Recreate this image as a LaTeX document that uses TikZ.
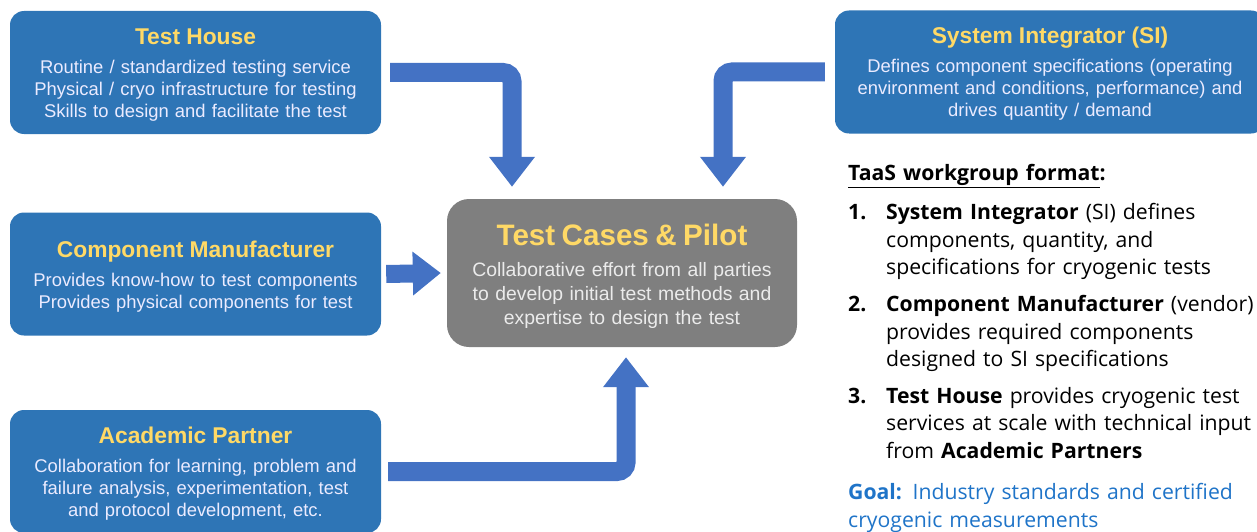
\documentclass[tikz,border=0pt]{standalone}
\usepackage{fontspec}
\setmainfont{Liberation Sans}
\newfontfamily\listfont{Open Sans}
\usetikzlibrary{positioning}
\usetikzlibrary{arrows.meta}
\definecolor{boxblue}{HTML}{2E75B6}
\definecolor{arrowblue}{HTML}{4472C4}
\definecolor{pilotgray}{HTML}{7F7F7F}
\definecolor{titleyellow}{HTML}{FFD966}
\definecolor{goalblue}{HTML}{1F74C8}
% title line of a box, #1 = extra room above it
\newcommand{\boxtitle}[3][5pt]{{\fontsize{#2}{24}\selectfont\bfseries\color{titleyellow}\rule{0pt}{\dimexpr\fontcharht\font`T+#1\relax}#3\par}\vspace{7pt}}
\newcommand{\listitem}[2]{\makebox[38pt][l]{\textbf{#1}}\parbox[t]{400pt}{#2}\par}
\tikzset{
    party/.style={
        fill=boxblue, rounded corners=14pt,
        minimum width=371pt, minimum height=123pt,
        text width=365pt, align=center, inner sep=0pt,
        text=white!92!blue, font=\fontsize{18.4}{22}\selectfont
    },
    pilotbox/.style={
        fill=pilotgray, rounded corners=22pt,
        minimum width=350pt, minimum height=148pt,
        text width=345pt, align=center, inner sep=0pt,
        text=white!92!black, font=\fontsize{19.4}{24}\selectfont
    },
    bigarrow/.style={
        draw=arrowblue, line width=19pt, rounded corners=9pt,
        -{Triangle[length=30pt,width=44pt]}
    },
}

\begin{document}
\begin{tikzpicture}[x=1pt,y=-1pt]
    \useasboundingbox (0,0) rectangle (1257,532);

    % the parties
    \node[party] (house) at (195.5,72.5) {\boxtitle[6pt]{22.8}{Test House}
        Routine / standardized testing service\\
        Physical / cryo infrastructure for testing\\
        Skills to design and facilitate the test};
    \node[party, minimum width=430pt, text width=425pt] (si) at (1050,72) {\boxtitle[5pt]{22.8}{System Integrator (SI)}
        Defines component specifications (operating\\
        environment and conditions, performance) and\\
        drives quantity / demand};
    \node[party] (comp) at (195.5,274) {\boxtitle[7pt]{22.8}{Component Manufacturer}
        Provides know-how to test components\\
        Provides physical components for test};
    \node[party] (acad) at (195.5,471.5) {\boxtitle[5pt]{22.8}{Academic Partner}
        Collaboration for learning, problem and\\
        failure analysis, experimentation, test\\
        and protocol development, etc.};

    % the pilot
    \node[pilotbox] (pilot) at (622,273) {\boxtitle[8pt]{29.6}{Test Cases \& Pilot}
        Collaborative effort from all parties\\
        to develop initial test methods and\\
        expertise to design the test};

    % arrows
    \draw[bigarrow] ([xshift=9pt]house.east) -| ([xshift=-110pt,yshift=12pt]pilot.north);
    \draw[bigarrow] ([xshift=-10pt]si.west) -| ([xshift=101pt,yshift=12pt]pilot.north);
    \draw[bigarrow, line width=18pt, -{Triangle[length=28pt,width=42pt]}] ([xshift=5pt]comp.east) -- ([xshift=-6pt]pilot.west);
    \draw[bigarrow] ([xshift=7pt]acad.east) -| ([xshift=4pt,yshift=-10pt]pilot.south);

    % workgroup format
    \node[anchor=north west, inner sep=0pt, text width=430pt, align=left,
          font=\listfont\fontsize{21.2}{27.5}\selectfont] (format) at (848,164) {%
        \textbf{\underline{TaaS workgroup format}:}\par\vspace{12pt}
        \listitem{1.}{\textbf{System Integrator} (SI) defines\\
        components, quantity, and\\
        specifications for cryogenic tests}\vspace{14.5pt}
        \listitem{2.}{\textbf{Component Manufacturer} (vendor)\\
        provides required components\\
        designed to SI specifications}\vspace{14.5pt}
        \listitem{3.}{\textbf{Test House} provides cryogenic test\\
        services at scale with technical input\\
        from \textbf{Academic Partners}}\vspace{24pt}
        {\color{goalblue}\textbf{Goal:} Industry standards and certified\\
        cryogenic measurements\par}};
\end{tikzpicture}
\end{document}
